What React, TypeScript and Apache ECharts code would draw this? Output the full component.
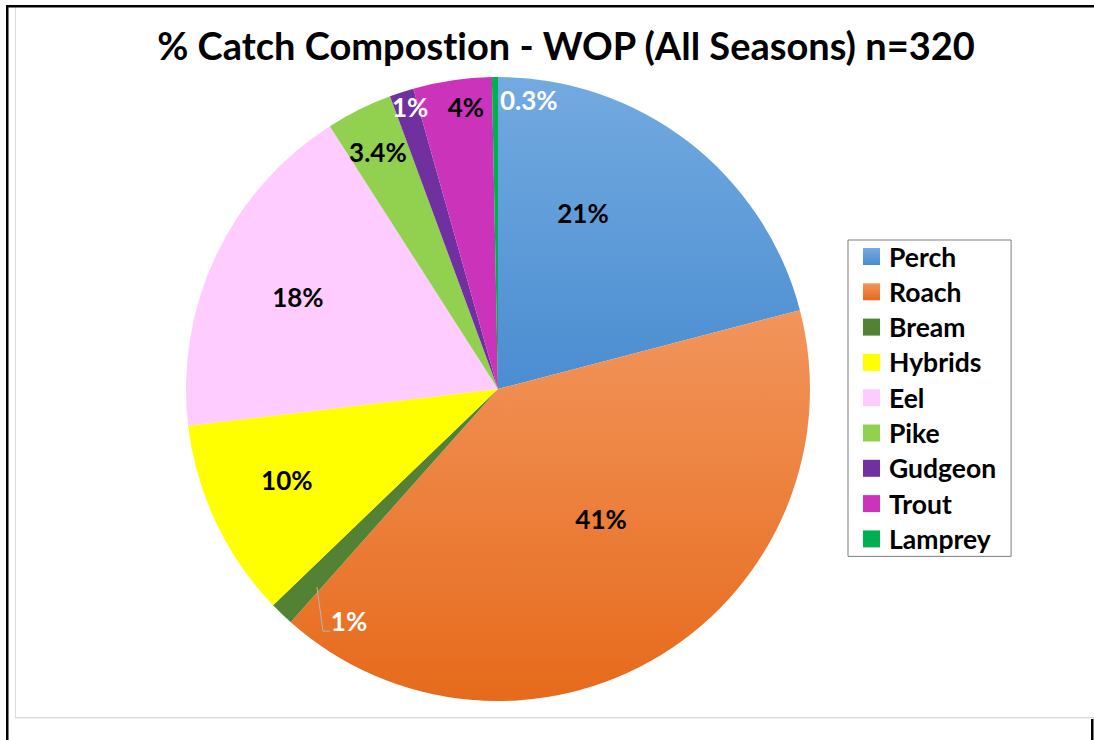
import React, { useEffect, useRef } from "react";
import * as echarts from "echarts";

const TITLE = "% Catch Compostion - WOP (All Seasons) n=320";
const SPECIES = ["Perch", "Roach", "Bream", "Hybrids", "Eel", "Pike", "Gudgeon", "Trout", "Lamprey"];
const COUNTS = [67, 130, 4, 33, 57, 11, 4, 13, 1];
const LABELS = ["21%", "41%", "1%", "10%", "18%", "3.4%", "1%", "4%", "0.3%"];

const grad = (a: string, b: string) =>
  new echarts.graphic.LinearGradient(0, 0, 0, 1, [
    { offset: 0, color: a },
    { offset: 1, color: b },
  ]);

const COLORS: any[] = [
  grad("#73aae0", "#4a8dd1"),
  grad("#f2955c", "#e66a1b"),
  "#548235",
  "#ffff00",
  "#ffccff",
  "#92d050",
  "#7030a0",
  "#cc33bb",
  "#00b050",
];
const LABEL_COLORS = ["#000", "#000", "#fff", "#000", "#000", "#000", "#fff", "#000", "#fff"];

// label placement (polar: angle clockwise from 12 o'clock in degrees, radius fraction)
const LABEL_POLAR: [number, number][] = [
  [25.8, 0.626],
  [141.6, 0.532],
  [212.7, 0.884],
  [246.7, 0.737],
  [294.7, 0.706],
  [333.1, 0.851],
  [342.7, 0.947],
  [353.5, 0.91],
  [6.1, 0.93],
];

const CX = 498;
const CY = 389;
const R = 312;
const FONT = "Lato, 'Open Sans', sans-serif";

export default function App() {
  const ref = useRef<HTMLDivElement>(null);
  useEffect(() => {
    if (!ref.current) return;
    const chart = echarts.init(ref.current, undefined, { renderer: "svg" });
    const data = SPECIES.map((name, i) => ({
      name,
      value: COUNTS[i],
      itemStyle: { color: COLORS[i] },
      label: { color: LABEL_COLORS[i] },
    }));
    const pos = (i: number) => {
      const [a, f] = LABEL_POLAR[i];
      const rad = (a * Math.PI) / 180;
      return [CX + f * R * Math.sin(rad), CY - f * R * Math.cos(rad)];
    };
    const [bx, by] = pos(2);
    chart.setOption({
      animation: false,
      backgroundColor: "#fff",
      title: {
        text: TITLE,
        left: 561,
        top: 21,
        textAlign: "center",
        textStyle: { fontFamily: FONT, fontWeight: "bold", fontSize: 38, color: "#000" },
      },
      legend: {
        orient: "vertical",
        left: 848,
        top: 240,
        data: SPECIES,
        icon: "rect",
        itemWidth: 17,
        itemHeight: 17,
        itemGap: 8.3,
        borderColor: "#7f7f7f",
        borderWidth: 1,
        padding: [3, 15, 4, 15],
        textStyle: {
          fontFamily: FONT,
          fontWeight: "bold",
          fontSize: 26.5,
          lineHeight: 25,
          color: "#000",
          padding: [0, 0, 0, 4],
        },
      },
      graphic: [
        { type: "rect", shape: { x: 15, y: 7, width: 1, height: 711 }, style: { fill: "#d9dce6" } },
        { type: "rect", shape: { x: 15, y: 717, width: 1079, height: 1.5 }, style: { fill: "#d9dce6" } },
        { type: "rect", shape: { x: 6, y: 5, width: 1088, height: 2.5 }, style: { fill: "#000" } },
        { type: "rect", shape: { x: 6, y: 5, width: 2.5, height: 735 }, style: { fill: "#000" } },
        { type: "rect", shape: { x: 1091, y: 719, width: 2.5, height: 21 }, style: { fill: "#000" } },
        {
          type: "polyline",
          z: 100,
          shape: {
            points: [
              [bx - 32, by - 34],
              [bx - 26, by + 10],
              [bx - 19, by + 10],
            ],
          },
          style: { stroke: "#b4b4b4", lineWidth: 1, fill: "none" },
        },
      ],
      series: [
        {
          type: "pie",
          center: [CX, CY],
          radius: R,
          startAngle: 90,
          clockwise: true,
          avoidLabelOverlap: false,
          itemStyle: { borderWidth: 0 },
          emphasis: { disabled: true },
          label: {
            show: true,
            position: "inside",
            formatter: (p: any) => LABELS[p.dataIndex],
            fontFamily: FONT,
            fontWeight: "bold",
            fontSize: 26,
            align: "center",
            verticalAlign: "middle",
          },
          labelLine: { show: false },
          labelLayout: (p: any) => {
            const [x, y] = pos(p.dataIndex);
            return { x, y, align: "center", verticalAlign: "middle" };
          },
          data,
        },
      ],
    });
    return () => chart.dispose();
  }, []);
  return (
    <>
      <style>{"svg text { font-variant-ligatures: none; font-feature-settings: 'liga' 0; }"}</style>
      <div
        ref={ref}
        style={{ position: "absolute", left: 0, top: 0, width: 1094, height: 740 }}
      />
    </>
  );
}
